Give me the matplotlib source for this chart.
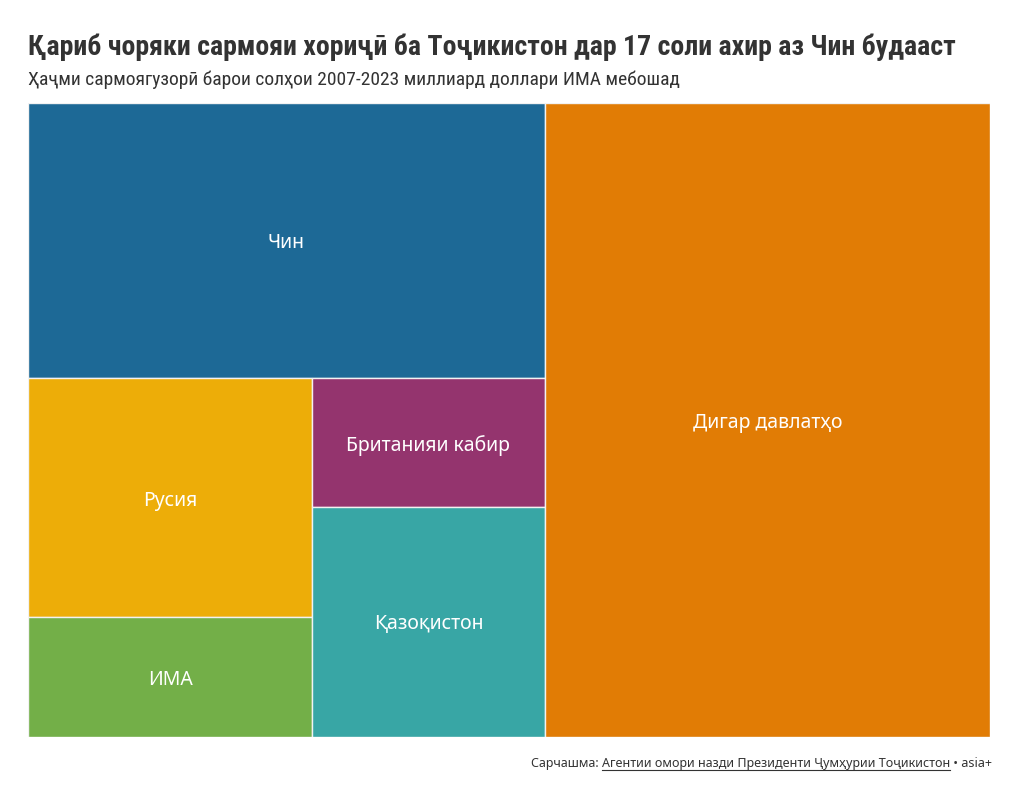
import matplotlib.pyplot as plt
from matplotlib import font_manager
from matplotlib.patches import Rectangle

# маълумот (миллиард доллари ИМА), тахминӣ аз расм
davlatho = ["Чин", "Русия", "ИМА", "Британияи кабир", "Қазоқистон", "Дигар давлатҳо"]
arzish = [3.35, 1.6, 0.8, 0.7, 1.26, 6.65]
rangho = ["#1D6996", "#EDAD08", "#73AF48", "#94346E", "#38A6A5", "#E17C05"]

names = set(f.name for f in font_manager.fontManager.ttflist)
sarlavha_font = "Roboto Condensed" if "Roboto Condensed" in names else "Roboto"
matn_font = "Source Sans Pro" if "Source Sans Pro" in names else "Noto Sans"

v = dict(zip(davlatho, arzish))
c = dict(zip(davlatho, rangho))

fig = plt.figure(figsize=(10.2, 8), dpi=100)
fig.patch.set_facecolor("white")
ax = fig.add_axes([28/1020, 63/800, 962/1020, 634/800])
ax.set_xlim(0, 1)
ax.set_ylim(0, 1)
ax.axis("off")

total = sum(arzish)
rest = total - v["Дигар давлатҳо"]
cells = {}
# сутуни рост
xo = rest/total
cells["Дигар давлатҳо"] = (xo, 0, 1 - xo, 1)
# болои чап
hc = v["Чин"]/rest
cells["Чин"] = (0, 1 - hc, xo, hc)
# поёни чап
h2 = 1 - hc
r2 = rest - v["Чин"]
w1 = xo*(v["Русия"] + v["ИМА"])/r2
hr = h2*v["Русия"]/(v["Русия"] + v["ИМА"])
cells["Русия"] = (0, h2 - hr, w1, hr)
cells["ИМА"] = (0, 0, w1, h2 - hr)
hb = h2*v["Британияи кабир"]/(v["Британияи кабир"] + v["Қазоқистон"])
cells["Британияи кабир"] = (w1, h2 - hb, xo - w1, hb)
cells["Қазоқистон"] = (w1, 0, xo - w1, h2 - hb)

for d in davlatho:
    x, y, w, h = cells[d]
    ax.add_patch(Rectangle((x, y), w, h, facecolor=c[d], edgecolor="#f2f2f2", linewidth=1))
    ax.text(x + w/2, y + h/2 - 0.004, d, ha="center", va="center", color="white",
            fontsize=14, family=[matn_font, "DejaVu Sans"])

fig.text(28/1020, 1 - 55/800, "Қариб чоряки сармояи хориҷӣ ба Тоҷикистон дар 17 соли ахир аз Чин будааст",
         fontsize=20.1, fontweight="bold", color="#333333", family=[sarlavha_font, "DejaVu Sans"])
fig.text(28/1020, 1 - 85/800, "Ҳаҷми сармоягузорӣ барои солҳои 2007-2023 миллиард доллари ИМА мебошад",
         fontsize=14, color="#333333", family=[sarlavha_font, "DejaVu Sans"])

# манбаъ бо хати зер
fig.canvas.draw()
r = fig.canvas.get_renderer()
qismho = ["Сарчашма: ", "Агентии омори назди Президенти Ҷумҳурии Тоҷикистон", " • asia+"]
xr = 992
yb = 800 - 767
for i, s in enumerate(reversed(qismho)):
    t = fig.text(xr/1020, yb/800, s, ha="right", va="baseline", fontsize=9, color="#333333",
                 family=[matn_font, "DejaVu Sans"])
    bb = t.get_window_extent(r)
    if i == 1:
        fig.add_artist(plt.Line2D([bb.x0/1020, bb.x1/1020], [(yb - 2.5)/800, (yb - 2.5)/800],
                                  color="#333333", linewidth=0.8))
    xr = bb.x0

fig.savefig("out.png", dpi=100, facecolor="white")
